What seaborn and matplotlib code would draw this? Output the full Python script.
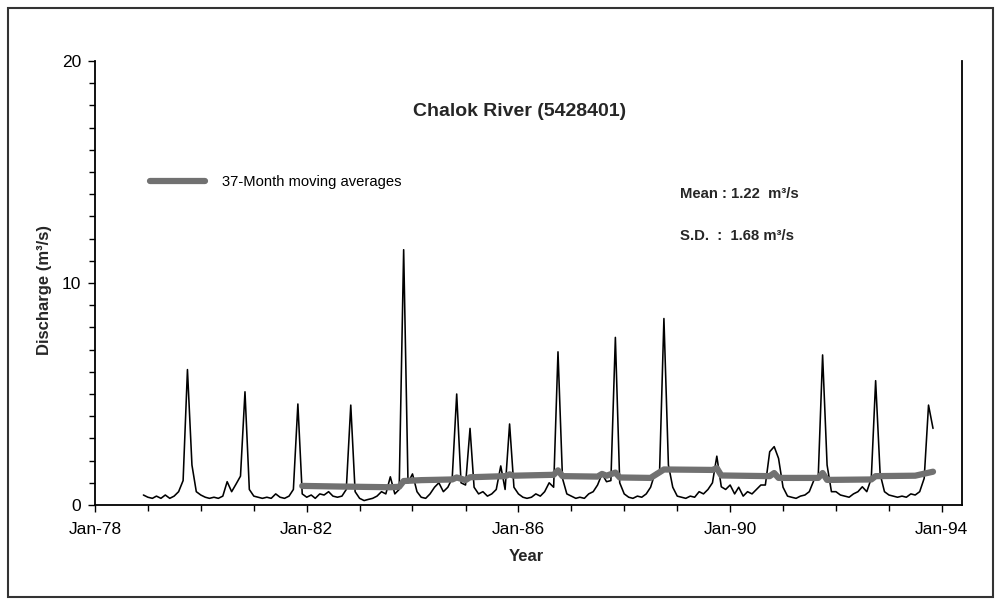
import numpy as np
import pandas as pd
import matplotlib
matplotlib.use("Agg")
import matplotlib.pyplot as plt
import matplotlib.dates as mdates
from matplotlib.patches import Rectangle
import seaborn as sns

# ---------------- data (monthly discharge, m3/s) ----------------
first_month = "1978-12-01"
q1978 = [0.45]
q1979 = [0.35, 0.30, 0.40, 0.30, 0.45, 0.30, 0.40, 0.60, 1.10, 6.10, 1.80, 0.60]
q1980 = [0.45, 0.35, 0.30, 0.35, 0.30, 0.40, 1.05, 0.60, 0.95, 1.30, 5.10, 0.70]
q1981 = [0.40, 0.35, 0.30, 0.35, 0.30, 0.50, 0.35, 0.30, 0.40, 0.70, 4.55, 0.50]
q1982 = [0.35, 0.45, 0.30, 0.50, 0.45, 0.60, 0.40, 0.35, 0.40, 0.70, 4.50, 0.60]
q1983 = [0.30, 0.20, 0.25, 0.30, 0.40, 0.60, 0.50, 1.27, 0.50, 0.70, 11.5, 1.00]
q1984 = [1.40, 0.60, 0.35, 0.30, 0.50, 0.80, 1.00, 0.60, 0.80, 1.20, 5.00, 1.00]
q1985 = [0.90, 3.45, 0.80, 0.50, 0.60, 0.40, 0.50, 0.70, 1.76, 0.70, 3.65, 0.80]
q1986 = [0.50, 0.35, 0.30, 0.35, 0.50, 0.40, 0.60, 1.00, 0.80, 6.90, 1.20, 0.50]
q1987 = [0.40, 0.30, 0.35, 0.30, 0.50, 0.60, 0.90, 1.40, 1.05, 1.10, 7.55, 1.00]
q1988 = [0.50, 0.35, 0.30, 0.40, 0.35, 0.50, 0.80, 1.45, 1.50, 8.40, 1.80, 0.80]
q1989 = [0.40, 0.35, 0.30, 0.40, 0.35, 0.60, 0.50, 0.70, 1.00, 2.20, 0.82, 0.70]
q1990 = [0.90, 0.50, 0.80, 0.40, 0.60, 0.50, 0.70, 0.90, 0.90, 2.40, 2.63, 2.10]
q1991 = [0.80, 0.40, 0.35, 0.30, 0.40, 0.45, 0.60, 1.10, 1.30, 6.76, 1.80, 0.60]
q1992 = [0.60, 0.45, 0.40, 0.35, 0.50, 0.60, 0.82, 0.60, 1.20, 5.60, 1.40, 0.60]
q1993 = [0.45, 0.40, 0.35, 0.40, 0.35, 0.50, 0.45, 0.60, 1.20, 4.50, 3.45]

# 37-month moving average (vertices of the grey line)
ma_dates = ["1981-12", "1982-09", "1983-08", "1983-10", "1983-11", "1984-03",
            "1984-10", "1984-11", "1985-01", "1985-02", "1985-10", "1985-11",
            "1985-12", "1986-09", "1986-10", "1986-11", "1987-07", "1987-08",
            "1987-09", "1987-11", "1987-12", "1988-07", "1988-10", "1989-09",
            "1989-10", "1989-11", "1990-10", "1990-11", "1990-12", "1991-09",
            "1991-10", "1991-11", "1992-09", "1992-10", "1993-07", "1993-11"]
ma_values = [0.86, 0.83, 0.80, 0.82, 1.08, 1.12,
             1.15, 1.24, 1.12, 1.25, 1.30, 1.38,
             1.32, 1.36, 1.56, 1.30, 1.28, 1.40,
             1.32, 1.46, 1.24, 1.22, 1.60, 1.58,
             1.66, 1.33, 1.30, 1.44, 1.22, 1.22,
             1.44, 1.13, 1.15, 1.30, 1.32, 1.50]

xtick_years = [1978, 1982, 1986, 1990, 1994]
ytick_values = [0, 10, 20]
title_text = "Chalok River (5428401)"
legend_text = "37-Month moving averages"
mean_text = "Mean : 1.22  m³/s"
sd_text = "S.D.  :  1.68 m³/s"

# ---------------- build tables ----------------
discharge = (q1978 + q1979 + q1980 + q1981 + q1982 + q1983 + q1984 + q1985 +
             q1986 + q1987 + q1988 + q1989 + q1990 + q1991 + q1992 + q1993)
flow = pd.DataFrame({
    "date": pd.date_range(first_month, periods=len(discharge), freq="MS"),
    "q": discharge,
})
ma = pd.DataFrame({"date": pd.to_datetime(ma_dates), "q": ma_values})

# ---------------- figure ----------------
sns.set_theme(style="white")
plt.rcParams["font.family"] = ["Liberation Sans", "DejaVu Sans"]

W, H = 1002, 609
fig = plt.figure(figsize=(W / 100, H / 100), dpi=100)
fig.patch.set_facecolor("white")
ax = fig.add_axes([95 / W, (H - 505) / H, 867 / W, 444 / H])

sns.lineplot(data=flow, x="date", y="q", ax=ax, color="black", lw=1.15,
             label="_nolegend_")
sns.lineplot(data=ma, x="date", y="q", ax=ax, color="#717171", lw=4.5,
             label=legend_text, solid_joinstyle="round")

ax.set_xlim(pd.Timestamp("1978-01-01"), pd.Timestamp("1994-05-20"))
ax.set_ylim(0, 20)

ax.set_xticks([pd.Timestamp(f"{y}-01-01") for y in xtick_years])
ax.xaxis.set_minor_locator(mdates.YearLocator(base=1, month=1, day=1))
ax.xaxis.set_major_formatter(mdates.DateFormatter("%b-%y"))
ax.set_yticks(ytick_values)
ax.yaxis.set_minor_locator(matplotlib.ticker.MultipleLocator(1))

ax.tick_params(axis="both", which="major", direction="out", length=5,
               width=1, color="black", labelsize=12.5, labelcolor="black")
ax.tick_params(axis="both", which="minor", direction="out", length=4,
               width=1, color="black")
ax.tick_params(axis="x", which="major", pad=7)
ax.tick_params(axis="y", which="major", pad=5)
ax.tick_params(axis="both", which="both", bottom=True, left=True)

for side in ["left", "bottom", "right"]:
    ax.spines[side].set_visible(True)
    ax.spines[side].set_color("black")
    ax.spines[side].set_linewidth(1.3)
ax.spines["top"].set_visible(False)

ax.set_xlabel("Year", fontsize=12, fontweight="bold")
ax.set_ylabel("Discharge (m³/s)", fontsize=12, fontweight="bold")
ax.xaxis.set_label_coords(0.498, -0.099)
ax.yaxis.set_label_coords((52 - 95) / 867, 0.485)

ax.text((520 - 95) / 867, (505 - 112) / 444, title_text, transform=ax.transAxes,
        ha="center", va="center", fontsize=14, fontweight="bold")
ax.text((680 - 95) / 867, (505 - 194) / 444, mean_text, transform=ax.transAxes,
        ha="left", va="center", fontsize=10.7, fontweight="bold")
ax.text((680 - 95) / 867, (505 - 236) / 444, sd_text, transform=ax.transAxes,
        ha="left", va="center", fontsize=10.7, fontweight="bold")

leg = ax.legend(loc="center left",
                bbox_to_anchor=((150 - 95) / 867, (505 - 182) / 444),
                frameon=False, fontsize=10.6, handlelength=3.75,
                handletextpad=1.15, borderpad=0, borderaxespad=0)
for t in leg.get_texts():
    t.set_color("black")

fig.add_artist(Rectangle((8 / W, (H - 597) / H), (993 - 8) / W, (597 - 8) / H,
                         transform=fig.transFigure, fill=False,
                         edgecolor="#333333", lw=1.5))

fig.savefig("out.png", dpi=100, facecolor="white")
